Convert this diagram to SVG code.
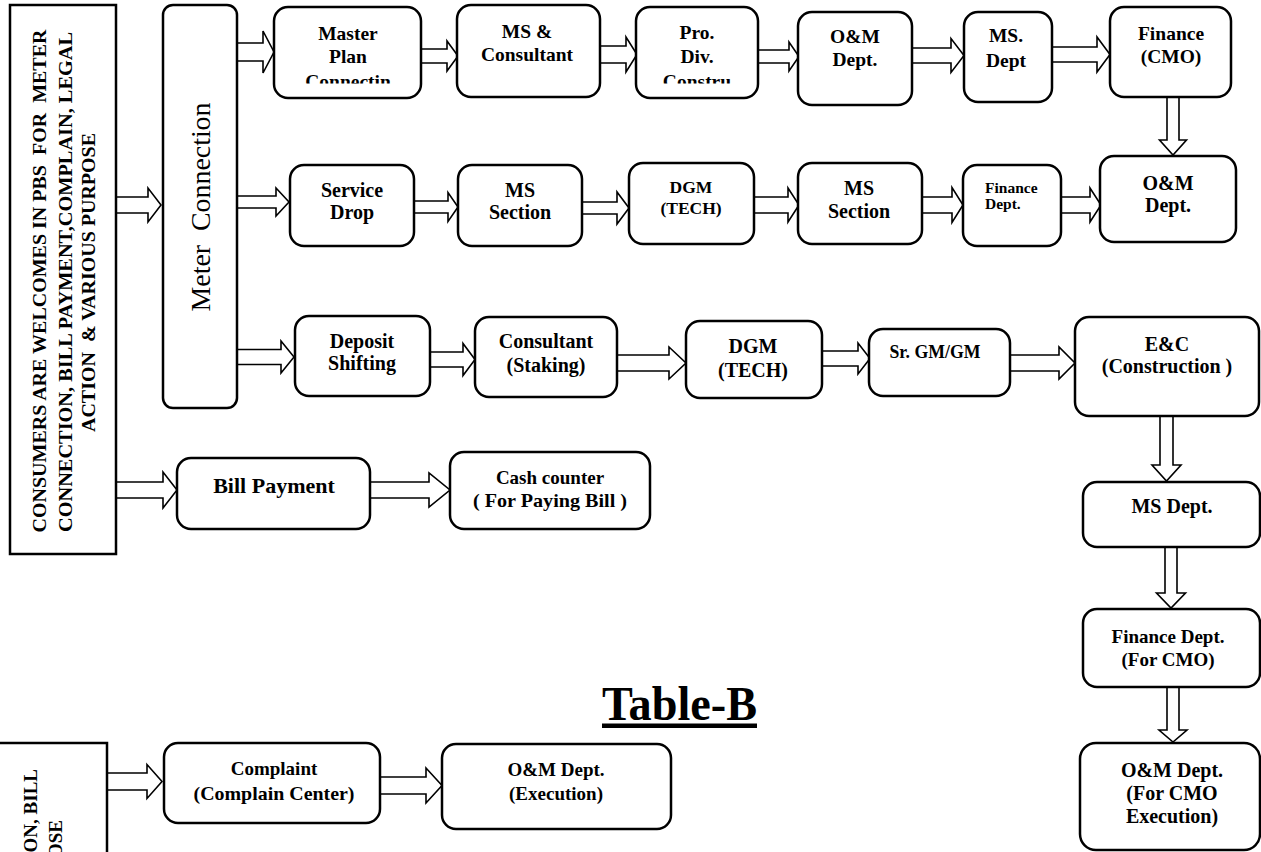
<svg xmlns="http://www.w3.org/2000/svg" width="1261" height="852" viewBox="0 0 1261 852">
<defs>
<style>
.box{fill:#fff;stroke:#000;stroke-width:2.5}
.arr{fill:#fff;stroke:#000;stroke-width:1.6;stroke-linejoin:miter}
text{font-family:"Liberation Serif","Times New Roman",serif;font-weight:bold;fill:#000;white-space:pre}
.t{font-size:19.5px;text-anchor:middle}
.t20{font-size:20px;text-anchor:middle}
.reg{font-weight:normal}
</style>
<clipPath id="clipMaster"><rect x="274" y="7" width="147" height="76.5"/></clipPath>
<clipPath id="clipPro"><rect x="636" y="7" width="122" height="76.5"/></clipPath>
</defs>
<rect width="1261" height="852" fill="#fff"/>

<g id="connectors">
<polygon class="arr" points="116,197 148,197 148,188 161,205 148,222 148,213 116,213"/>
<polygon class="arr" points="237,43 263,43 263,31 274,52 263,73 263,61 237,61"/>
<polygon class="arr" points="237,196 276,196 276,188 289,202 276,216 276,208 237,208"/>
<polygon class="arr" points="237,349.5 281,349.5 281,341 294,357 281,373 281,364.5 237,364.5"/>
<polygon class="arr" points="116,482 163,482 163,472 177,490 163,508 163,498 116,498"/>
<polygon class="arr" points="421,49 447,49 447,41 458,56 447,71 447,63 421,63"/>
<polygon class="arr" points="600,46 626,46 626,37 637,54.5 626,72 626,63 600,63"/>
<polygon class="arr" points="758,50 789,50 789,42 799,56.5 789,71 789,63 758,63"/>
<polygon class="arr" points="912,48 951,48 951,38.5 964,55.5 951,72.5 951,63 912,63"/>
<polygon class="arr" points="1052,47 1097,47 1097,37 1110,54.5 1097,72 1097,62 1052,62"/>
<polygon class="arr" points="1167,97 1167,140 1159.5,140 1173,155 1186.5,140 1179,140 1179,97"/>
<polygon class="arr" points="414,201 448,201 448,192.5 458,207 448,221.5 448,213 414,213"/>
<polygon class="arr" points="582,202 617,202 617,192 629,208 617,224 617,214 582,214"/>
<polygon class="arr" points="754,197 788,197 788,188 799,205 788,222 788,213 754,213"/>
<polygon class="arr" points="922,197 952,197 952,187.5 963,205 952,222.5 952,213 922,213"/>
<polygon class="arr" points="1061,197 1090,197 1090,188 1101,205 1090,222 1090,213 1061,213"/>
<polygon class="arr" points="430,352 463,352 463,343.5 475,359.5 463,375.5 463,367 430,367"/>
<polygon class="arr" points="617,355 669,355 669,347 686,363 669,379 669,371 617,371"/>
<polygon class="arr" points="822,351 858,351 858,343 870,358.5 858,374 858,366 822,366"/>
<polygon class="arr" points="1010,355 1059,355 1059,347 1075,363 1059,379 1059,371 1010,371"/>
<polygon class="arr" points="1160,416 1160,465 1152,465 1166.5,481 1181,465 1173,465 1173,416"/>
<polygon class="arr" points="1165,547 1165,593 1156.5,593 1171,608 1185.5,593 1177,593 1177,547"/>
<polygon class="arr" points="1167,687 1167,730 1159,730 1173,742 1187,730 1179,730 1179,687"/>
<polygon class="arr" points="370,482 429,482 429,473 450,490 429,507 429,498 370,498"/>
<polygon class="arr" points="107,773 147,773 147,764.5 162,781.5 147,798.5 147,790 107,790"/>
<polygon class="arr" points="380,777 426,777 426,768 442,785.5 426,803 426,794 380,794"/>
</g>

<g id="consumers">
<rect class="box" x="10" y="5" width="106" height="549"/>
<text font-size="19" text-anchor="middle" transform="translate(46,281) rotate(-90)" textLength="503" lengthAdjust="spacingAndGlyphs">CONSUMERS ARE WELCOMES IN PBS  FOR  METER</text>
<text font-size="19" text-anchor="middle" transform="translate(72,282) rotate(-90)" textLength="500" lengthAdjust="spacingAndGlyphs">CONNECTION, BILL PAYMENT,COMPLAIN, LEGAL</text>
<text font-size="19" text-anchor="middle" transform="translate(95,282.5) rotate(-90)" textLength="299" lengthAdjust="spacingAndGlyphs">ACTION  &amp; VARIOUS PURPOSE</text>
</g>

<g id="consumers-copy">
<rect class="box" x="-5" y="743" width="112" height="130"/>
<text font-size="19" text-anchor="end" transform="translate(37,769) rotate(-90)">ON, BILL</text>
<text font-size="19" text-anchor="end" transform="translate(62,820) rotate(-90)">OSE</text>
</g>

<g id="meter">
<rect class="box" x="163" y="5" width="74" height="403" rx="10"/>
<text class="reg" font-size="28" text-anchor="middle" transform="translate(210,207) rotate(-90)" textLength="209" lengthAdjust="spacingAndGlyphs">Meter  Connection</text>
</g>

<g id="master-plan">
<rect class="box" x="274" y="7" width="147" height="91" rx="14"/>
<text class="t" x="348" y="40">Master</text>
<text class="t" x="348" y="63">Plan</text>
<text class="t" x="348" y="88" clip-path="url(#clipMaster)">Connectin</text>
</g>
<g id="ms-consultant">
<rect class="box" x="457" y="5" width="143" height="92" rx="14"/>
<text class="t" x="527" y="38">MS &amp;</text>
<text class="t" x="527" y="61">Consultant</text>
</g>
<g id="pro-div">
<rect class="box" x="636" y="7" width="122" height="91" rx="14"/>
<text class="t" x="697" y="39">Pro.</text>
<text class="t" x="697" y="63">Div.</text>
<text class="t" x="697" y="88" clip-path="url(#clipPro)">Constru</text>
</g>
<g id="om-1">
<rect class="box" x="798" y="12" width="114" height="93" rx="14"/>
<text class="t" x="855" y="43">O&amp;M</text>
<text class="t" x="855" y="66">Dept.</text>
</g>
<g id="ms-dept-1">
<rect class="box" x="964" y="12" width="88" height="90" rx="14"/>
<text class="t" x="1006" y="42">MS.</text>
<text class="t" x="1006" y="67">Dept</text>
</g>
<g id="finance-cmo">
<rect class="box" x="1110" y="7" width="121" height="90" rx="14"/>
<text class="t" x="1171" y="40">Finance</text>
<text class="t" x="1171" y="63">(CMO)</text>
</g>

<g id="service-drop">
<rect class="box" x="290" y="165" width="124" height="81" rx="14"/>
<text class="t20" x="352" y="197">Service</text>
<text class="t20" x="352" y="219">Drop</text>
</g>
<g id="ms-section-1">
<rect class="box" x="458" y="165" width="124" height="81" rx="14"/>
<text class="t20" x="520" y="197">MS</text>
<text class="t20" x="520" y="219">Section</text>
</g>
<g id="dgm-1">
<rect class="box" x="629" y="163" width="125" height="81" rx="14"/>
<text font-size="17.5" text-anchor="middle" x="691" y="193">DGM</text>
<text font-size="17.5" text-anchor="middle" x="691" y="214">(TECH)</text>
</g>
<g id="ms-section-2">
<rect class="box" x="798" y="163" width="124" height="81" rx="14"/>
<text class="t20" x="859" y="195">MS</text>
<text class="t20" x="859" y="218">Section</text>
</g>
<g id="finance-dept-1">
<rect class="box" x="963" y="165" width="98" height="81" rx="14"/>
<text font-size="15.5" x="985" y="193">Finance</text>
<text font-size="15.5" x="985" y="209">Dept.</text>
</g>
<g id="om-2">
<rect class="box" x="1100" y="156" width="136" height="86" rx="14"/>
<text class="t20" x="1168" y="190">O&amp;M</text>
<text class="t20" x="1168" y="212">Dept.</text>
</g>

<g id="deposit-shifting">
<rect class="box" x="295" y="316" width="135" height="80" rx="14"/>
<text class="t20" x="362" y="348">Deposit</text>
<text class="t20" x="362" y="370">Shifting</text>
</g>
<g id="consultant-staking">
<rect class="box" x="475" y="317" width="142" height="80" rx="14"/>
<text class="t20" x="546" y="348">Consultant</text>
<text class="t20" x="546" y="372">(Staking)</text>
</g>
<g id="dgm-2">
<rect class="box" x="686" y="321" width="136" height="77" rx="14"/>
<text class="t20" x="753" y="353">DGM</text>
<text class="t20" x="753" y="377">(TECH)</text>
</g>
<g id="sr-gm">
<rect class="box" x="869" y="329" width="141" height="67" rx="14"/>
<text font-size="18" text-anchor="middle" x="935" y="358" textLength="91" lengthAdjust="spacingAndGlyphs">Sr. GM/GM</text>
</g>
<g id="ec-construction">
<rect class="box" x="1075" y="317" width="184" height="99" rx="14"/>
<text class="t20" x="1167" y="351">E&amp;C</text>
<text class="t20" x="1167" y="373">(Construction )</text>
</g>

<g id="ms-dept-2">
<rect class="box" x="1083" y="482" width="177" height="65" rx="14"/>
<text class="t20" x="1172" y="513">MS Dept.</text>
</g>
<g id="finance-dept-2">
<rect class="box" x="1083" y="609" width="177" height="78" rx="14"/>
<text font-size="19" text-anchor="middle" x="1168" y="643">Finance Dept.</text>
<text font-size="19" text-anchor="middle" x="1168" y="666">(For CMO)</text>
</g>
<g id="om-cmo">
<rect class="box" x="1080" y="743" width="180" height="107" rx="16"/>
<text class="t20" x="1172" y="777">O&amp;M Dept.</text>
<text class="t20" x="1172" y="800">(For CMO</text>
<text class="t20" x="1172" y="823">Execution)</text>
</g>

<g id="bill-payment">
<rect class="box" x="177" y="458" width="193" height="71" rx="14"/>
<text font-size="22" text-anchor="middle" x="274" y="493">Bill Payment</text>
</g>
<g id="cash-counter">
<rect class="box" x="450" y="452" width="200" height="77" rx="14"/>
<text font-size="19" text-anchor="middle" x="550" y="484">Cash counter</text>
<text font-size="19" text-anchor="middle" x="550" y="507" textLength="154" lengthAdjust="spacingAndGlyphs">( For Paying Bill )</text>
</g>

<g id="title">
<text font-size="48" text-anchor="middle" x="679.5" y="720" textLength="155" lengthAdjust="spacingAndGlyphs">Table-B</text>
<rect x="602" y="723.5" width="155" height="4.5" fill="#000"/>
</g>

<g id="complaint">
<rect class="box" x="164" y="743" width="216" height="80" rx="14"/>
<text font-size="19" text-anchor="middle" x="274" y="775">Complaint</text>
<text font-size="19" text-anchor="middle" x="274" y="800" textLength="161" lengthAdjust="spacingAndGlyphs">(Complain Center)</text>
</g>
<g id="om-execution">
<rect class="box" x="442" y="744" width="229" height="85" rx="14"/>
<text font-size="19" text-anchor="middle" x="556" y="776">O&amp;M Dept.</text>
<text font-size="19" text-anchor="middle" x="556" y="800">(Execution)</text>
</g>
</svg>
